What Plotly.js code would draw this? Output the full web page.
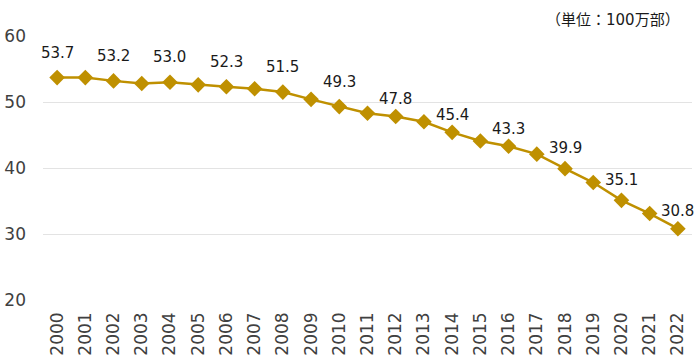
<!DOCTYPE html>
<html>
<head>
<meta charset="utf-8">
<script src="https://cdn.plot.ly/plotly-3.0.1.min.js"></script>
<style>html,body{margin:0;padding:0;background:#fff;}#chart{width:698px;height:362px;}</style>
</head>
<body>
<div id="chart"></div>
<script>
const years = ["2000","2001","2002","2003","2004","2005","2006","2007","2008","2009","2010","2011","2012","2013","2014","2015","2016","2017","2018","2019","2020","2021","2022"];
const circulation = [53.7,53.7,53.2,52.8,53.0,52.6,52.3,52.0,51.5,50.4,49.3,48.3,47.8,47.0,45.4,44.1,43.3,42.1,39.9,37.8,35.1,33.1,30.8];
const yTicks = [20,30,40,50,60];
const unitLabel = "（単位：100万部）";

// styling: vertical offset (px) of each value label above its point (labels on even years)
const labelShift = [25,25,25,25,25,25,18,17,17,21,20,18];

const FONT = "DejaVu Sans, Verdana, 'Noto Sans CJK JP', sans-serif";
const GOLD = "#BF9000";

const annotations = [];
let k = 0;
years.forEach((yr, i) => {
  if (i % 2 === 0) {
    annotations.push({
      x: i, y: circulation[i], xref: 'x', yref: 'y',
      text: circulation[i].toFixed(1), showarrow: false,
      yshift: labelShift[k++], font: {family: FONT, size: 15, color: '#1a1a1a'}
    });
  }
});
annotations.push({
  xref: 'paper', yref: 'paper', x: 0.984, y: 1.06, xanchor: 'right', yanchor: 'middle',
  text: unitLabel, showarrow: false, font: {family: FONT, size: 15, color: '#1a1a1a'}
});

const trace = {
  x: years, y: circulation, type: 'scatter', mode: 'lines+markers',
  line: {color: GOLD, width: 2.5},
  marker: {symbol: 'diamond', size: 12, color: GOLD},
  hoverinfo: 'skip'
};

const layout = {
  width: 698, height: 362,
  margin: {l: 43, r: 6, t: 36, b: 62},
  paper_bgcolor: '#fff', plot_bgcolor: '#fff',
  showlegend: false,
  font: {family: FONT, color: '#404040'},
  xaxis: {
    type: 'category', range: [-0.5, years.length - 0.5], tickangle: -90, showgrid: false, zeroline: false,
    showline: false, ticks: '', tickfont: {family: FONT, size: 17, color: '#404040'},
    ticklabelstandoff: 8
  },
  yaxis: {
    range: [20, 60], tickvals: yTicks, showgrid: true, gridcolor: '#e3e3e3', gridwidth: 1,
    zeroline: false, showline: false, ticks: '',
    tickfont: {family: FONT, size: 17, color: '#404040'}, ticklabelstandoff: 16
  },
  annotations: annotations
};

Plotly.newPlot('chart', [trace], layout, {displayModeBar: false, staticPlot: true});
</script>
</body>
</html>
